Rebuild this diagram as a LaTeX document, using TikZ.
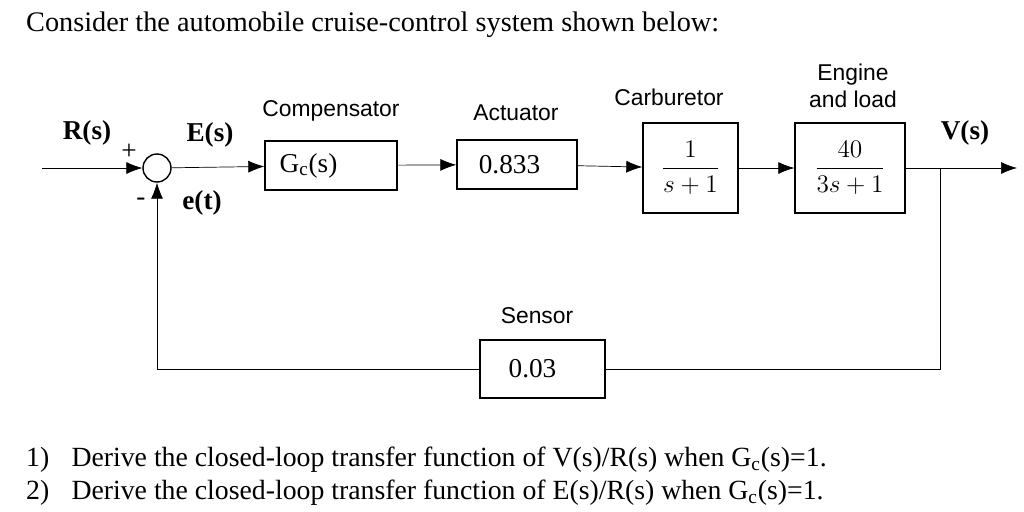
\documentclass[tikz,border=0pt]{standalone}
\usepackage{fontspec}
\setmainfont{Liberation Serif}
\setsansfont{Liberation Sans}
\usepackage{tikz}
\usetikzlibrary{arrows.meta}
\tikzstyle{arrow} = [-{Latex[length=3.2mm,width=2.4mm]}]
\tikzstyle{block} = [draw, thick, inner sep=0pt]
\tikzstyle{tag} = [font=\sffamily\fontsize{13}{15}\selectfont]
\tikzstyle{sig} = [font=\bfseries\fontsize{15.5}{18}\selectfont]

\begin{document}
\begin{tikzpicture}[x=0.02cm, y=-0.02cm, every node/.style={font=\fontsize{15.5}{18}\selectfont}]
		\useasboundingbox (0,0) rectangle (1024,511);
		\node [anchor=west, font=\fontsize{16.1}{19}\selectfont] (title) at (20,25) {Consider the automobile cruise-control system shown below:};

		\node (sum) [draw, thick, circle, minimum size=0.56cm, inner sep=0pt] at (157,168) {};
		\coordinate (in) at (42,168);
		\coordinate (out) at (1017,168);
		\coordinate (tap) at (940,168);
		\node (comp) [block, minimum width=2.64cm, minimum height=0.98cm] at (331,165.5) {\hspace{-0.9cm}G\textsubscript{c}(s)};
		\node (act) [block, minimum width=2.4cm, minimum height=0.98cm] at (517,164.5) {\hspace{-0.3cm}0.833};
		\node (carb) [block, minimum width=1.9cm, minimum height=1.8cm] at (690.5,168) {$\displaystyle\frac{1}{s+1}$};
		\node (eng) [block, minimum width=2.2cm, minimum height=1.8cm] at (850,168) {$\displaystyle\frac{40}{3s+1}$};
		\node (sens) [block, minimum width=2.5cm, minimum height=1.16cm] at (542.5,369) {\hspace{-0.4cm}0.03};

		\node [tag] at (331,111) {Compensator};
		\node [tag] at (516,113) {Actuator};
		\node [tag] at (669,97) {Carburetor};
		\node [tag, align=center] at (853,86) {Engine\\and load};
		\node [tag] at (537,316) {Sensor};

		\node [sig] at (87,133) {R(s)};
		\node [sig] at (210,135) {E(s)};
		\node [sig] at (202,203) {e(t)};
		\node [sig] at (965,133) {V(s)};
		\node at (129,152) {+};
		\node at (141,202) {-};

		\draw [arrow] (in) -- (sum);
		\draw [arrow] (sum) -- (comp);
		\draw [arrow] (comp) -- (act);
		\draw [arrow] (act) -- (carb);
		\draw [arrow] (carb) -- (eng);
		\draw [arrow] (eng) -- (out);
		\draw (tap) |- (sens);
		\draw [arrow] (sens) -| (sum);

		\node [anchor=west, font=\fontsize{15.8}{19}\selectfont] (q1) at (20,460) {1)\hspace{0.8em}Derive the closed-loop transfer function of V(s)/R(s) when G\textsubscript{c}(s)=1.};
		\node [anchor=west, font=\fontsize{15.8}{19}\selectfont] (q2) at (20,493) {2)\hspace{0.8em}Derive the closed-loop transfer function of E(s)/R(s) when G\textsubscript{c}(s)=1.};
	\end{tikzpicture}
\end{document}
